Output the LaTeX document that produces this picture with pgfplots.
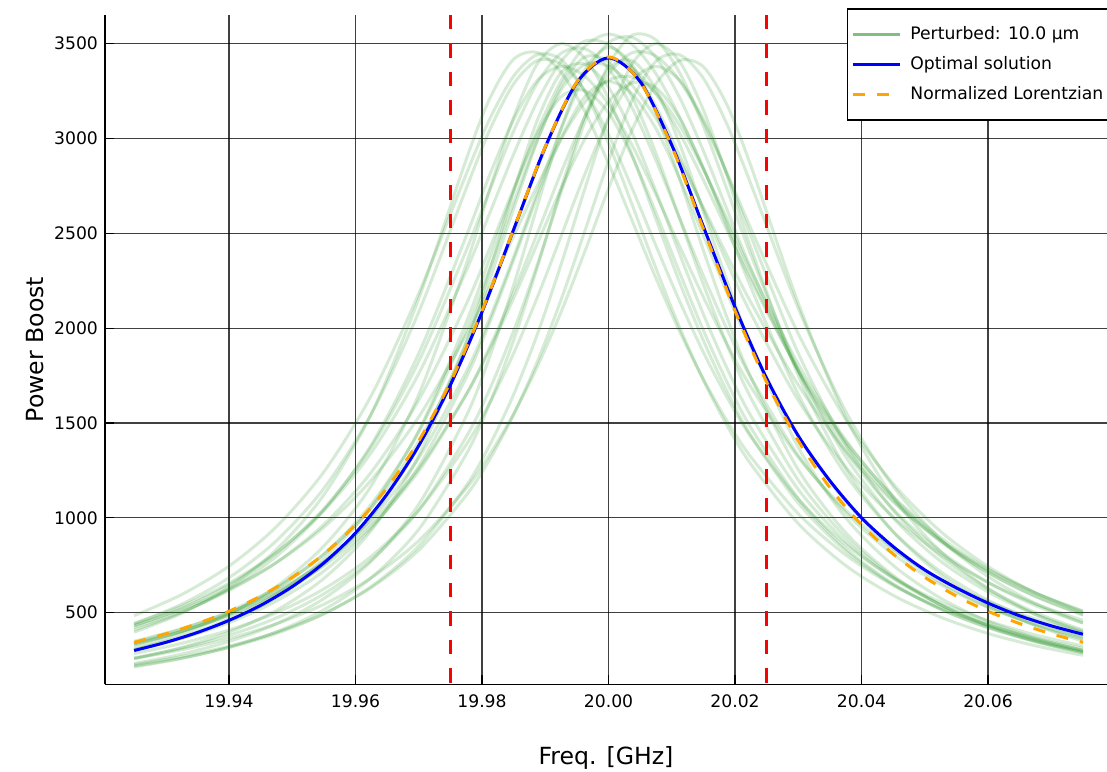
\documentclass[border=0pt]{standalone}
\usepackage{pgfplots}
\usepackage{pgfplotstable}
\pgfplotsset{compat=1.18}
\usepackage{fontspec}
\setmainfont{DejaVu Sans}
\definecolor{pgreen}{RGB}{0,128,0}
\definecolor{porange}{RGB}{255,165,0}
\definecolor{pblue}{RGB}{0,0,255}
\definecolor{pred}{RGB}{255,0,0}
\pgfplotsset{pert/.style={pgreen, line width=1.5pt, opacity=0.16, smooth, forget plot, no markers}}
\pgfplotstableread{
x c1 c2 c3 c4 c5 c6 c7 c8 c9 c10 c11 c12 c13 c14 c15 c16 c17 c18 c19 c20 c21 c22 c23 c24 c25
19.925 397 441 316 429 257 443 302 421 231 301 334 214 261 336 218 284 226 258 408 434 342 330 349 305 484
19.9325 496 544 390 522 316 534 368 505 281 364 400 258 312 401 260 338 268 304 500 517 413 400 415 374 595
19.94 634 684 493 646 397 655 457 616 348 447 488 318 380 485 316 408 323 363 625 624 506 496 501 467 745
19.9475 832 879 638 814 512 818 579 764 441 561 606 399 472 597 390 500 396 441 797 764 632 626 614 597 953
19.955 1121 1155 851 1048 680 1039 753 965 574 719 768 515 599 748 493 625 495 544 1040 950 807 809 766 784 1242
19.9625 1548 1548 1169 1374 934 1344 1006 1241 771 945 994 684 778 955 638 797 632 684 1385 1199 1052 1072 974 1056 1645
19.97 2156 2085 1650 1825 1327 1760 1379 1621 1071 1271 1316 939 1040 1246 851 1040 829 879 1867 1532 1402 1453 1260 1459 2183
19.9775 2889 2736 2336 2409 1926 2302 1922 2126 1536 1739 1770 1335 1426 1650 1169 1385 1118 1155 2485 1965 1890 1989 1650 2031 2812
19.98125 3212 3047 2734 2731 2309 2609 2261 2423 1852 2033 2055 1606 1681 1903 1386 1608 1310 1335 2811 2217 2189 2316 1890 2374 3105
19.985 3418 3288 3112 3039 2720 2917 2629 2736 2227 2359 2376 1937 1986 2189 1650 1867 1544 1548 3101 2485 2515 2662 2158 2722 3329
19.98875 3453 3411 3394 3293 3097 3196 2988 3041 2644 2695 2718 2322 2336 2501 1968 2163 1824 1798 3306 2752 2844 2994 2446 3026 3442
19.9925 3349 3392 3500 3449 3348 3407 3278 3304 3051 3001 3052 2736 2717 2820 2336 2485 2150 2085 3380 2997 3138 3256 2735 3220 3416
19.99625 3142 3252 3423 3473 3392 3513 3429 3485 3362 3220 3332 3116 3088 3114 2734 2811 2512 2404 3328 3191 3345 3391 2997 3252 3247
20 2868 3021 3211 3369 3269 3496 3402 3550 3480 3300 3505 3367 3388 3339 3112 3101 2881 2736 3181 3307 3420 3380 3194 3135 2974
20.00375 2565 2736 2911 3160 3029 3374 3217 3495 3386 3234 3533 3409 3544 3452 3394 3306 3203 3047 2963 3324 3371 3279 3293 2904 2649
20.0075 2263 2434 2574 2884 2720 3168 2922 3341 3132 3051 3427 3259 3520 3434 3500 3380 3408 3288 2704 3240 3234 3106 3267 2608 2315
20.01125 1982 2141 2240 2579 2390 2909 2576 3112 2784 2788 3215 2971 3346 3304 3405 3306 3441 3411 2431 3069 3028 2884 3106 2292 2003
20.015 1730 1872 1934 2276 2073 2626 2230 2840 2409 2488 2934 2613 3065 3087 3150 3101 3317 3378 2163 2837 2780 2636 2845 1988 1725
20.01875 1510 1634 1665 1993 1787 2344 1911 2553 2054 2185 2624 2248 2729 2816 2800 2811 3073 3175 1914 2575 2515 2382 2534 1714 1485
20.0225 1321 1427 1434 1740 1538 2077 1632 2272 1740 1902 2315 1910 2386 2525 2423 2485 2760 2856 1690 2305 2252 2136 2215 1475 1283
20.03 1021 1098 1077 1328 1149 1619 1198 1775 1253 1431 1770 1371 1778 1970 1750 1867 2104 2131 1319 1810 1780 1700 1650 1101 969
20.0375 804 859 825 1027 874 1267 897 1385 921 1085 1351 1000 1322 1519 1260 1385 1561 1530 1040 1410 1402 1352 1227 838 748
20.045 644 684 647 808 680 1004 688 1092 696 838 1045 749 999 1179 926 1040 1166 1108 832 1107 1113 1084 927 652 591
20.0525 525 555 518 648 541 807 541 874 540 660 822 576 771 928 700 797 887 822 676 881 895 880 716 518 476
20.06 435 457 422 528 438 659 434 710 429 530 659 454 609 743 543 625 690 627 558 713 730 724 565 420 390
20.0675 366 382 350 438 361 546 355 586 348 434 537 366 490 604 432 500 548 490 466 585 604 603 455 346 325
20.075 311 324 294 368 302 459 295 490 287 360 445 300 402 499 350 408 445 392 395 487 506 509 373 290 275
}\greens
\begin{document}
\begin{tikzpicture}
\begin{axis}[
 at={(0pt,0pt)}, anchor=south west,
 scale only axis, width=501pt, height=334.65pt,
 xmin=19.9204, xmax=20.0788, ymin=122, ymax=3651,
 axis x line*=bottom, axis y line*=left,
 axis line style={black, line width=0.7pt},
 xtick={19.94,19.96,19.98,20.00,20.02,20.04,20.06},
 xticklabels={19.94,19.96,19.98,20.00,20.02,20.04,20.06},
 ytick={500,1000,1500,2000,2500,3000,3500},
 yticklabels={500,1000,1500,2000,2500,3000,3500},
 tick label style={font=\fontsize{8.6}{10}\selectfont, black},
 xticklabel style={yshift=-1.5pt},
 tick align=inside, major tick length=4.5pt,
 tick style={black, line width=0.6pt},
 grid=major, major grid style={black, line width=0.6pt, opacity=0.75},
 xlabel={Freq. [GHz]}, ylabel={Power Boost},
 label style={font=\fontsize{11.8}{14}\selectfont},
 xlabel style={at={(axis description cs:0.5,-0.1105)}, anchor=center},
 ylabel style={at={(axis description cs:-0.0699,0.5)}, anchor=center},
 legend style={at={(axis description cs:0.7402,1.0100)}, anchor=north west, draw=black, line width=0.7pt, fill=white, font=\fontsize{8.6}{10}\selectfont, inner xsep=2pt, inner ysep=6.5pt, row sep=2.5pt, column sep=2pt, nodes={inner xsep=2.5pt, inner ysep=2pt, text height=6.5pt, text depth=2pt}},
 legend cell align=left,
 legend image code/.code={\draw[#1, line width=1.5pt] (0pt,0pt) -- (23.5pt,0pt);},
]
\addlegendimage{pgreen, opacity=0.5, line width=1.5pt}
\addlegendentry{Perturbed: 10.0 μm}

\pgfplotsinvokeforeach{1,...,25}{
  \addplot[pert] table[x=x, y=c#1] {\greens};
}

\addplot[pred, line width=1.6pt, dash pattern=on 7.2pt off 7pt, forget plot] coordinates {(19.975,3651)(19.975,122)};
\addplot[pred, line width=1.6pt, dash pattern=on 7.2pt off 7pt, forget plot] coordinates {(20.025,3651)(20.025,122)};

\addplot[pblue, line width=1.5pt, smooth, no markers] coordinates {(19.925,300)(19.93,343)(19.935,395)(19.94,459)(19.945,538)(19.95,637)(19.955,762)(19.96,920)(19.965,1125)(19.97,1380)(19.975,1700)(19.98,2085)(19.985,2520)(19.99,2955)(19.995,3295)(20,3425)(20.005,3300)(20.01,2965)(20.015,2535)(20.02,2110)(20.025,1735)(20.03,1432)(20.035,1195)(20.04,1000)(20.045,848)(20.05,725)(20.055,630)(20.06,550)(20.065,483)(20.07,430)(20.075,386)};
\addlegendentry{Optimal solution}

\addplot[porange, line width=1.5pt, smooth, no markers, dash pattern=on 6pt off 6pt] coordinates {(19.925,343)(19.93,388)(19.935,442)(19.94,507)(19.945,587)(19.95,686)(19.955,809)(19.96,963)(19.965,1159)(19.97,1406)(19.975,1715)(19.98,2091)(19.985,2522)(19.99,2957)(19.995,3298)(20,3430)(20.005,3298)(20.01,2957)(20.015,2522)(20.02,2091)(20.025,1715)(20.03,1406)(20.035,1159)(20.04,963)(20.045,809)(20.05,686)(20.055,587)(20.06,507)(20.065,442)(20.07,388)(20.075,343)};
\addlegendentry{Normalized Lorentzian}
\end{axis}
\pgfresetboundingbox
\path[use as bounding box] (-52.5pt,-43.35pt) rectangle (501pt,342.15pt);
\end{tikzpicture}
\end{document}
